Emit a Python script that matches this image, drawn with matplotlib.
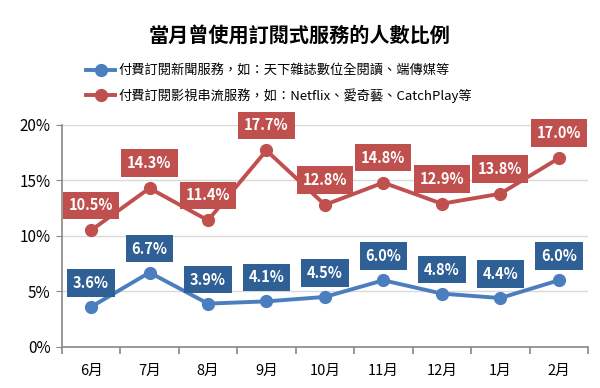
import numpy as np
import matplotlib
matplotlib.use("Agg")
import matplotlib.pyplot as plt
from matplotlib.ticker import FuncFormatter

plt.rcParams['font.family'] = ['Noto Sans CJK TC', 'DejaVu Sans']

months = ['6月', '7月', '8月', '9月', '10月', '11月', '12月', '1月', '2月']
news = [3.6, 6.7, 3.9, 4.1, 4.5, 6.0, 4.8, 4.4, 6.0]
video = [10.5, 14.3, 11.4, 17.7, 12.8, 14.8, 12.9, 13.8, 17.0]
news_label = '付費訂閱新聞服務，如：天下雜誌數位全閱讀、端傳媒等'
video_label = '付費訂閱影視串流服務，如：Netflix、愛奇藝、CatchPlay等'
title = '當月曾使用訂閱式服務的人數比例'

fig = plt.figure(figsize=(6, 3.88), dpi=100)
ax = fig.add_axes([0.103, 0.106, 0.877, 0.572])

x = np.arange(len(months))
l1, = ax.plot(x, news, color='#4a7ebf', lw=2.8, marker='o', ms=8.5, label=news_label)
l2, = ax.plot(x, video, color='#c0504d', lw=2.8, marker='o', ms=8.5, label=video_label)

# data labels in coloured boxes above each point
for xi, v in zip(x, news):
    ax.annotate('%.1f%%' % v, (xi, v), xytext=(0, 24), textcoords='offset pixels',
                ha='center', va='center', color='white', fontsize=10.5, fontweight='bold',
                bbox=dict(boxstyle='square,pad=0.4', fc='#2e5f95', ec='none'))
for xi, v in zip(x, video):
    ax.annotate('%.1f%%' % v, (xi, v), xytext=(0, 25), textcoords='offset pixels',
                ha='center', va='center', color='white', fontsize=10.5, fontweight='bold',
                bbox=dict(boxstyle='square,pad=0.4', fc='#c0504d', ec='none'))

ax.set_xlim(-0.5, len(months) - 0.5)
ax.set_ylim(0, 20)
ax.set_yticks([0, 5, 10, 15, 20])
ax.yaxis.set_major_formatter(FuncFormatter(lambda v, p: '%d%%' % v))
ax.set_xticks(x)
ax.set_xticklabels(months)
ax.set_xticks(np.arange(-0.5, len(months)), minor=True)
ax.tick_params(axis='x', which='major', length=0, pad=12, labelsize=10.5)
ax.tick_params(axis='x', which='minor', length=5, color='#888888', width=1.2)
ax.tick_params(axis='y', length=4, color='#888888', labelsize=11, pad=4)
ax.grid(axis='y', color='#d9d9d9', lw=1)
ax.set_axisbelow(True)
for s in ['top', 'right']:
    ax.spines[s].set_visible(False)
for s in ['left', 'bottom']:
    ax.spines[s].set_color('#888888')
    ax.spines[s].set_linewidth(1.2)

fig.text(0.5, 0.91, title, ha='center', va='center', fontsize=14.5, fontweight='bold')
fig.legend(handles=[l1, l2], loc='center', bbox_to_anchor=(0.465, 0.784), ncol=1,
           frameon=False, fontsize=9.5, handlelength=2.2, labelspacing=0.75,
           handletextpad=0.2)

fig.savefig('out.png', dpi=100)
